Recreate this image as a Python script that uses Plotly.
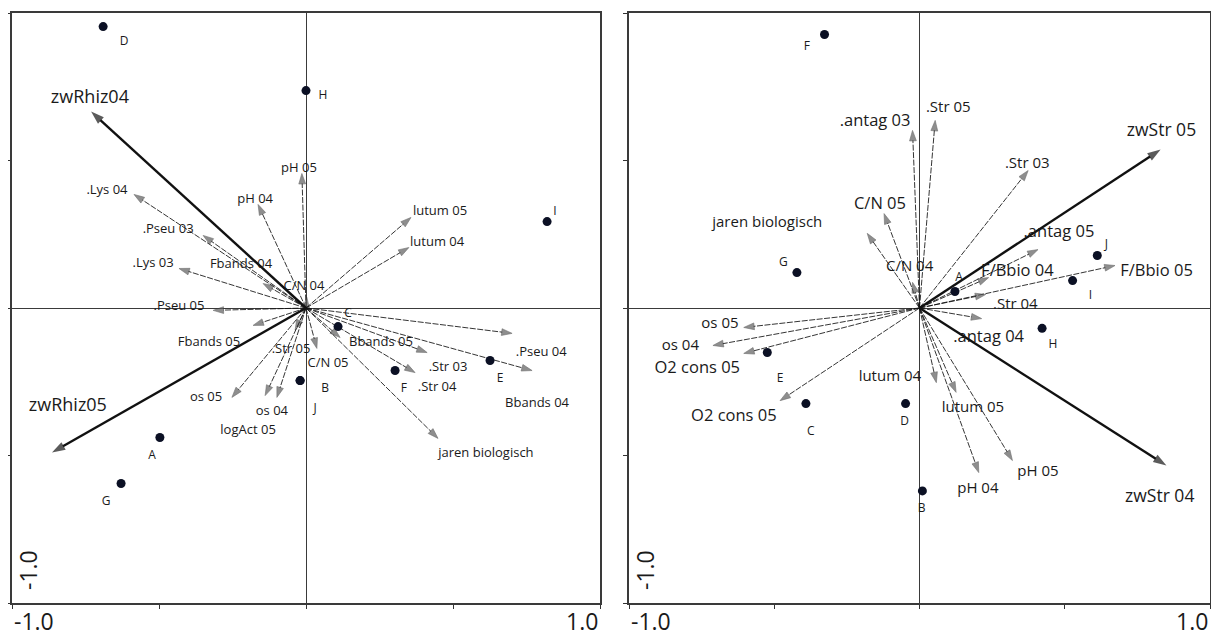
import plotly.graph_objects as go

# ---------------- DATA ----------------
# Left panel: sample scores
L_samples = ["D", "H", "I", "C", "E", "F", "B", "J", "A", "G"]
L_sx = [-0.690, 0.000, 0.820, 0.109, 0.626, 0.303, -0.020, -0.020, -0.497, -0.629]
L_sy = [0.954, 0.737, 0.293, -0.063, -0.178, -0.212, -0.246, -0.246, -0.439, -0.595]
L_slx = [-0.619, 0.058, 0.847, 0.143, 0.660, 0.333, 0.065, 0.031, -0.524, -0.680]
L_sly = [0.903, 0.720, 0.327, -0.022, -0.242, -0.276, -0.276, -0.344, -0.500, -0.659]

# Left panel: main (black) arrows
L_main = ["zwRhiz04", "zwRhiz05"]
L_mx = [-0.731, -0.864]
L_my = [0.666, -0.490]
L_mlx = [-0.735, -0.810]
L_mly = [0.710, -0.334]

# Left panel: supplementary (grey) arrows
L_sup = ["pH 05", "pH 04", ".Lys 04", ".Pseu 03", ".Lys 03", "Fbands 04", "C/N 04",
         ".Pseu 05", "Fbands 05", ".Str 05", "os 05", "os 04", "logAct 05", "C/N 05",
         "Bbands 05", ".Str 03", ".Str 04", ".Pseu 04", "Bbands 04", "jaren biologisch",
         "lutum 05", "lutum 04"]
L_ax = [-0.014, -0.163, -0.585, -0.350, -0.432, -0.146, 0.003,
        -0.316, -0.180, -0.037, -0.252, -0.139, -0.099, 0.037,
        0.116, 0.412, 0.371, 0.701, 0.769, 0.449,
        0.357, 0.350]
L_ay = [0.456, 0.351, 0.385, 0.246, 0.134, 0.083, 0.036,
        -0.008, -0.059, -0.075, -0.303, -0.297, -0.303, -0.137,
        -0.100, -0.151, -0.219, -0.086, -0.212, -0.442,
        0.307, 0.205]
L_alx = [-0.024, -0.173, -0.677, -0.469, -0.520, -0.221, -0.007,
         -0.432, -0.330, -0.051, -0.340, -0.116, -0.197, 0.075,
         0.255, 0.483, 0.446, 0.800, 0.786, 0.612,
         0.456, 0.446]
L_aly = [0.473, 0.368, 0.398, 0.266, 0.151, 0.147, 0.073,
         0.005, -0.117, -0.141, -0.303, -0.351, -0.415, -0.188,
         -0.117, -0.201, -0.269, -0.150, -0.325, -0.494,
         0.327, 0.222]

# Right panel: sample scores
R_samples = ["F", "G", "A", "J", "I", "H", "E", "C", "D", "B"]
R_sx = [-0.327, -0.422, 0.122, 0.612, 0.527, 0.422, -0.524, -0.391, -0.048, 0.010]
R_sy = [0.927, 0.120, 0.056, 0.178, 0.093, -0.069, -0.151, -0.324, -0.324, -0.620]
R_slx = [-0.388, -0.469, 0.136, 0.643, 0.588, 0.459, -0.480, -0.374, -0.051, 0.007]
R_sly = [0.886, 0.154, 0.103, 0.212, 0.042, -0.127, -0.239, -0.422, -0.388, -0.680]

# Right panel: main (black) arrows
R_main = ["zwStr 05", "zwStr 04"]
R_mx = [0.830, 0.850]
R_my = [0.537, -0.534]
R_mlx = [0.833, 0.827]
R_mly = [0.598, -0.642]

# Right panel: supplementary (grey) arrows
R_sup = [".antag 03", ".Str 05", ".Str 03", "C/N 05", "jaren biologisch", "C/N 04",
         ".antag 05", "F/Bbio 04", "F/Bbio 05", ".Str 04", ".antag 04", "lutum 04",
         "lutum 05", "pH 04", "pH 05", "os 05", "os 04", "O2 cons 05", "O2 cons 05"]
R_ax = [-0.024, 0.054, 0.374, -0.122, -0.180, -0.024,
        0.408, 0.238, 0.673, 0.228, 0.214, 0.058,
        0.126, 0.204, 0.320, -0.605, -0.711, -0.605, -0.480]
R_ay = [0.602, 0.636, 0.466, 0.320, 0.253, 0.087,
        0.198, 0.103, 0.144, 0.046, -0.036, -0.253,
        -0.286, -0.558, -0.517, -0.066, -0.127, -0.154, -0.314]
R_alx = [-0.153, 0.099, 0.371, -0.136, -0.524, -0.034,
         0.480, 0.337, 0.816, 0.330, 0.238, -0.102,
         0.184, 0.201, 0.408, -0.687, -0.823, -0.765, -0.639]
R_aly = [0.632, 0.676, 0.486, 0.351, 0.286, 0.137,
         0.256, 0.124, 0.124, 0.008, -0.100, -0.236,
         -0.340, -0.615, -0.557, -0.056, -0.130, -0.207, -0.368]

# ---------------- STYLE ----------------
FONT = "Open Sans"
TXT = "#1a1a1a"
DOT = "#0b1024"
GREY_HEAD = "#5f5f5f"
R_BIG = {".antag 03", "C/N 05", ".antag 05", "F/Bbio 04", "F/Bbio 05", ".antag 04", "O2 cons 05"}

PAGE_OFF = 8  # default body margin of the page
W, H = 1219 - 2 * PAGE_OFF, 637 - PAGE_OFF


def px_x(p):
    return (p - PAGE_OFF) / W


def px_y(p):
    return 1 - (p - PAGE_OFF) / H


panels = [
    dict(xa="x", ya="y", xdom=[px_x(12), px_x(600)]),
    dict(xa="x2", ya="y2", xdom=[px_x(629), px_x(1210)]),
]
ydom = [px_y(603), px_y(13)]

fig = go.Figure()


def add_arrow(xa, ya, tx, ty, main):
    if main:
        line = dict(color="#111111", width=2.4)
        marker = dict(symbol=["circle", "arrow"], size=[0, 14], angleref="previous",
                      color="#151515", line=dict(width=0))
    else:
        line = dict(color="#111111", width=0.85, dash="6px,1.5px")
        marker = dict(symbol=["circle", "arrow"], size=[0, 11], angleref="previous",
                      color=GREY_HEAD, line=dict(color="#333333", width=0.6))
    fig.add_trace(go.Scatter(x=[0, tx], y=[0, ty], mode="lines+markers", line=line,
                             marker=marker, xaxis=xa, yaxis=ya, hoverinfo="skip",
                             showlegend=False))


def add_text(xa, ya, xs, ys, texts, size):
    fig.add_trace(go.Scatter(x=xs, y=ys, text=texts, mode="text", textposition="middle center",
                             textfont=dict(family=FONT, size=size, color=TXT),
                             xaxis=xa, yaxis=ya, hoverinfo="skip", showlegend=False,
                             cliponaxis=False))


# Left panel
p = panels[0]
for tx, ty in zip(L_ax, L_ay):
    add_arrow(p["xa"], p["ya"], tx, ty, False)
for tx, ty in zip(L_mx, L_my):
    add_arrow(p["xa"], p["ya"], tx, ty, True)
fig.add_trace(go.Scatter(x=L_sx, y=L_sy, mode="markers", marker=dict(size=9, color=DOT),
                         xaxis=p["xa"], yaxis=p["ya"], hoverinfo="skip", showlegend=False))
add_text(p["xa"], p["ya"], L_slx, L_sly, L_samples, 12)
add_text(p["xa"], p["ya"], L_alx, L_aly, L_sup, 13)
add_text(p["xa"], p["ya"], L_mlx, L_mly, L_main, 18)

# Right panel
p = panels[1]
for tx, ty in zip(R_ax, R_ay):
    add_arrow(p["xa"], p["ya"], tx, ty, False)
for tx, ty in zip(R_mx, R_my):
    add_arrow(p["xa"], p["ya"], tx, ty, True)
fig.add_trace(go.Scatter(x=R_sx, y=R_sy, mode="markers", marker=dict(size=9, color=DOT),
                         xaxis=p["xa"], yaxis=p["ya"], hoverinfo="skip", showlegend=False))
add_text(p["xa"], p["ya"], R_slx, R_sly, R_samples, 12)
small_idx = [i for i, n in enumerate(R_sup) if n not in R_BIG]
big_idx = [i for i, n in enumerate(R_sup) if n in R_BIG]
add_text(p["xa"], p["ya"], [R_alx[i] for i in small_idx], [R_aly[i] for i in small_idx],
         [R_sup[i] for i in small_idx], 15)
add_text(p["xa"], p["ya"], [R_alx[i] for i in big_idx], [R_aly[i] for i in big_idx],
         [R_sup[i] for i in big_idx], 16.5)
add_text(p["xa"], p["ya"], R_mlx, R_mly, R_main, 17.5)

axis_common = dict(range=[-1, 1], tickvals=[-1, -0.5, 0, 0.5, 1], showticklabels=False,
                   ticks="outside", ticklen=4, tickcolor="#333", tickwidth=1.2,
                   showline=True, linecolor="#3a3a3a", linewidth=1.6, mirror=True,
                   showgrid=False, zeroline=True, zerolinecolor="#3a3a3a", zerolinewidth=1.2,
                   fixedrange=True)

fig.update_layout(
    width=W, height=H, margin=dict(l=0, r=0, t=0, b=0),
    paper_bgcolor="white", plot_bgcolor="white",
    xaxis=dict(domain=panels[0]["xdom"], anchor="y", **axis_common),
    yaxis=dict(domain=ydom, anchor="x", **axis_common),
    xaxis2=dict(domain=panels[1]["xdom"], anchor="y2", **axis_common),
    yaxis2=dict(domain=ydom, anchor="x2", **axis_common),
)

# Axis end labels
ann_font = dict(family=FONT, size=23, color=TXT)
for p in panels:
    x0, x1 = p["xdom"]
    fig.add_annotation(text="-1.0", xref="paper", yref="paper", x=x0, y=px_y(621),
                       xanchor="left", yanchor="middle", showarrow=False, font=ann_font)
    fig.add_annotation(text="1.0", xref="paper", yref="paper", x=x1, y=px_y(621),
                       xanchor="right", yanchor="middle", showarrow=False, font=ann_font)
    fig.add_annotation(text="-1.0", xref="paper", yref="paper", x=x0 + 16 / W, y=px_y(570),
                       xanchor="center", yanchor="middle", showarrow=False, font=ann_font,
                       textangle=-90)

fig.write_html("out.html")
